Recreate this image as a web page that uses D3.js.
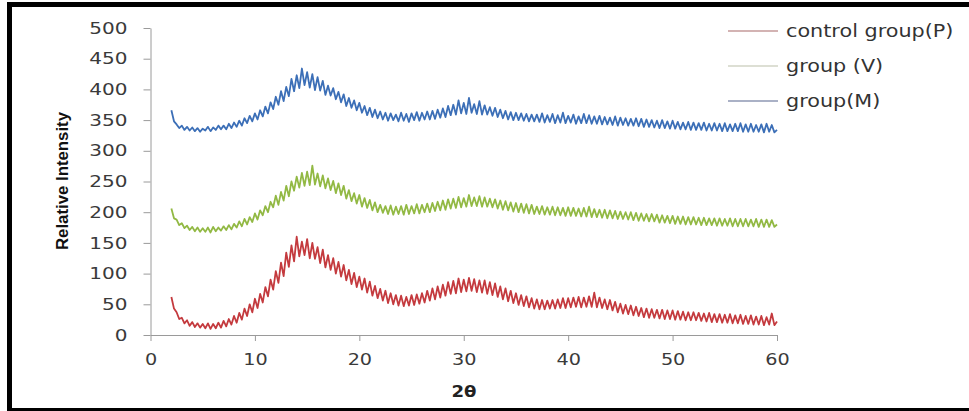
<!DOCTYPE html>
<html>
<head>
<meta charset="utf-8">
<script src="https://cdn.jsdelivr.net/npm/d3@7"></script>
<style>
  body { margin: 0; background: #fff; }
  svg { display: block; }
</style>
</head>
<body>
<svg id="xrd" width="969" height="411"></svg>
<script>
// 2-theta sampling grid, 2..60 step 0.25
var twoTheta = d3.range(2, 60.1, 0.25);

var seriesNames = ["control group(P)", "group (V)", "group(M)"];

var controlP = [
  62,43,37,26,28,19,24,15,21,13,19,12,18,11,19,10,18,11,20,12,
  23,14,26,17,31,20,36,25,43,31,50,37,59,44,67,53,78,63,90,74,
  104,85,118,96,134,111,146,120,160,128,152,130,156,125,150,124,143,117,139,110,
  130,106,125,100,119,95,114,89,106,83,101,78,95,74,92,69,87,64,80,60,
  75,56,72,52,68,50,65,48,64,47,62,48,65,49,66,51,68,53,72,56,
  76,58,79,61,82,64,86,67,88,68,92,70,90,71,93,72,91,70,89,69,
  89,67,86,65,84,62,79,58,76,55,72,52,68,49,65,47,63,45,60,43,
  58,42,57,42,56,43,57,43,58,44,60,44,60,45,61,46,62,45,61,46,
  63,46,69,45,61,44,58,42,57,40,54,37,51,35,49,34,48,32,46,31,
  44,29,43,28,42,28,41,27,41,26,40,26,40,25,39,25,38,24,37,24,
  37,24,36,23,35,22,36,21,34,21,34,20,33,20,34,19,32,19,33,18,
  31,18,32,17,30,17,31,16,29,17,35,16,22
];

var groupV = [
  206,190,188,179,182,174,178,171,176,169,175,168,174,168,175,167,176,169,175,170,
  177,171,179,172,181,175,185,177,189,180,192,184,198,188,203,195,210,200,217,208,
  227,212,233,219,243,226,250,235,258,240,264,243,266,244,276,245,263,242,260,239,
  255,236,251,231,247,228,243,222,236,218,231,214,228,209,223,207,220,203,216,200,
  212,199,210,197,211,196,209,197,210,196,212,197,210,198,213,198,212,200,214,200,
  215,202,217,203,219,204,221,206,222,207,225,208,223,209,228,210,224,210,226,209,
  224,209,222,208,221,206,219,204,218,203,216,201,215,200,214,199,213,198,212,197,
  209,197,210,196,208,196,209,195,208,195,207,194,208,194,207,194,206,193,207,193,
  209,192,205,192,204,191,204,190,203,190,202,189,201,189,200,188,200,187,199,186,
  198,186,197,185,197,185,196,183,195,183,194,182,194,181,193,181,193,180,192,180,
  192,180,191,179,191,179,190,179,190,178,190,178,189,178,190,177,189,177,189,177,
  189,177,188,177,189,176,188,176,188,176,187,176,180
];

var groupM = [
  366,348,343,337,341,334,339,333,338,332,337,331,336,333,339,332,338,334,341,335,
  341,335,344,337,346,339,349,341,353,345,357,348,361,351,366,356,372,361,379,368,
  388,375,397,381,404,389,417,397,423,402,434,407,428,403,425,399,420,398,414,391,
  406,390,402,384,396,379,392,373,386,370,382,366,378,362,373,358,370,355,367,353,
  364,351,362,349,361,350,359,348,362,349,360,347,361,350,363,349,362,351,364,351,
  365,352,367,354,369,355,373,358,375,359,382,361,378,360,386,362,376,360,381,359,
  374,359,371,357,370,355,367,353,365,351,363,350,362,350,361,349,360,348,359,348,
  359,347,361,346,358,347,360,345,358,346,362,345,357,346,359,344,356,345,360,345,
  358,344,356,344,357,343,355,343,354,342,356,341,354,342,353,341,352,341,353,340,
  352,339,351,339,350,338,349,337,350,337,348,336,349,336,347,335,346,335,347,334,
  346,334,345,334,346,333,344,333,345,333,344,332,345,332,343,332,344,332,345,331,
  343,331,344,331,342,331,343,330,344,331,342,330,334
];

var yTicks = [0, 50, 100, 150, 200, 250, 300, 350, 400, 450, 500];
var xTicks = [0, 10, 20, 30, 40, 50, 60];

var colors = ["#c43a3e", "#92b944", "#3c6fb7"];
var legendColors = ["#c49a9a", "#d2d4c6", "#8e97b3"];

var svg = d3.select("#xrd");

// outer frame
svg.append("rect")
  .attr("x", 9.5).attr("y", 4.5)
  .attr("width", 975).attr("height", 406)
  .attr("fill", "none")
  .attr("stroke", "#000")
  .attr("stroke-width", 5);

var margin = {left: 150.5, top: 28, right: 192, bottom: 76};
var width = 777 - margin.left,
    height = 335 - margin.top;

var g = svg.append("g").attr("transform", "translate(" + margin.left + "," + margin.top + ")");

var x = d3.scaleLinear().domain([0, 60]).range([0, width]);
var y = d3.scaleLinear().domain([0, 500]).range([height, 0]);

function stretch(sel, k) {
  sel.each(function() {
    var len = this.getComputedTextLength();
    d3.select(this).attr("textLength", len * k).attr("lengthAdjust", "spacingAndGlyphs");
  });
}

var yAxis = g.append("g")
  .call(d3.axisLeft(y).tickValues(yTicks).tickSize(7).tickSizeOuter(0).tickPadding(16));
var xAxis = g.append("g")
  .attr("transform", "translate(0," + height + ")")
  .call(d3.axisBottom(x).tickValues(xTicks).tickSize(6).tickSizeOuter(0).tickPadding(12));

[yAxis, xAxis].forEach(function(ax) {
  ax.select(".domain").attr("stroke", "#9a9a9a");
  ax.selectAll(".tick line").attr("stroke", "#9a9a9a");
  ax.selectAll("text")
    .attr("fill", "#3a3a3a")
    .style("font-family", "'DejaVu Sans', Verdana, sans-serif")
    .style("font-size", "16px");
});
xAxis.selectAll("text").attr("dy", "0.75em");
stretch(yAxis.selectAll("text"), 1.25);
stretch(xAxis.selectAll("text"), 1.2);

var all = [controlP, groupV, groupM];

var line = d3.line()
  .x(function(d, i) { return x(twoTheta[i]); })
  .y(function(d) { return y(d); });

g.selectAll(".series")
  .data(all)
  .enter().append("path")
  .attr("class", "series")
  .attr("d", function(d) { return line(d); })
  .attr("fill", "none")
  .attr("stroke", function(d, i) { return colors[i]; })
  .attr("stroke-width", 1.8)
  .attr("stroke-linejoin", "round");

// axis titles
svg.append("text")
  .attr("transform", "translate(68,181) rotate(-90)")
  .attr("text-anchor", "middle")
  .style("font-family", "'Liberation Sans Narrow', 'Arial Narrow', sans-serif")
  .style("font-weight", "bold")
  .style("font-size", "17px")
  .attr("fill", "#111")
  .attr("textLength", 138)
  .attr("lengthAdjust", "spacingAndGlyphs")
  .text("Relative Intensity");

svg.append("text")
  .attr("x", 464).attr("y", 397)
  .attr("text-anchor", "middle")
  .style("font-family", "'DejaVu Sans', sans-serif")
  .style("font-weight", "bold")
  .style("font-size", "16px")
  .attr("fill", "#222")
  .attr("textLength", 25)
  .attr("lengthAdjust", "spacingAndGlyphs")
  .text("2θ");

// legend
var legend = svg.selectAll(".legend")
  .data(seriesNames)
  .enter().append("g")
  .attr("class", "legend")
  .attr("transform", function(d, i) { return "translate(728," + (31 + i * 35) + ")"; });

legend.append("line")
  .attr("x1", 0).attr("x2", 50)
  .attr("stroke", function(d, i) { return legendColors[i]; })
  .attr("stroke-width", 1.5);

legend.append("text")
  .attr("x", 58).attr("y", 6)
  .style("font-family", "'DejaVu Sans', Verdana, sans-serif")
  .style("font-size", "17px")
  .attr("fill", "#333")
  .text(function(d) { return d; })
  .call(stretch, 1.22);
</script>
</body>
</html>
